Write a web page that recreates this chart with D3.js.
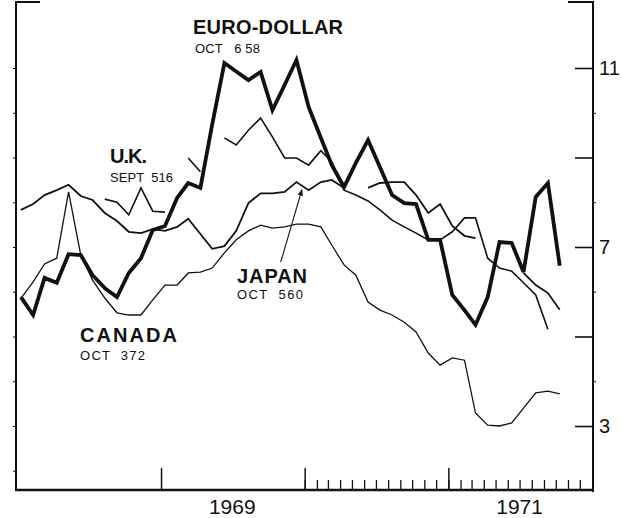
<!DOCTYPE html>
<meta charset="utf-8">
<style>
body { margin: 0; background: #fff; }
text { font-family: "Liberation Sans", Arial, sans-serif; fill: #111; }
.label { font-size: 20px; font-weight: bold; }
.sub { font-size: 13px; white-space: pre; }
.tick text { font-size: 20px; }
</style>
<svg width="622" height="518"></svg>
<script src="https://d3js.org/d3.v7.min.js"></script>
<script>
	var svg = d3.select("svg");
	var ink = "#111";

	// monthly points, Jan 1968 .. Oct 1971
	var months = d3.range(46).map(function(i) { return new Date(1968, i, 11); });

	var euroDollar = [5.88, 5.48, 6.31, 6.20, 6.84, 6.82, 6.37, 6.08, 5.88, 6.42, 6.75, 7.38,
		7.47, 8.10, 8.43, 8.32, 9.74, 11.11, 10.92, 10.73, 10.91, 10.06, 10.62, 11.18,
		10.13, 9.44, 8.83, 8.34, 8.88, 9.39, 8.79, 8.16, 7.98, 7.96, 7.16, 7.16,
		5.93, 5.59, 5.26, 5.88, 7.11, 7.09, 6.44, 8.12, 8.43, 6.58];
	var unitedKingdom = [null, null, null, null, null, null, null, 8.07, 8.00, 7.72, 8.32, 7.80,
		7.78, null, 8.99, 8.68, null, 9.44, 9.28, 9.61, 9.88, 9.46, 8.99, 8.99,
		8.83, 9.15, 8.90, 8.27, 8.16, 8.03, 7.83, 7.60, 7.45, 7.31, 7.16, 7.16,
		7.34, 7.65, 7.65, 6.75, 6.53, 6.46, 6.20, 5.93, 5.16, null];
	var japan = [7.83, 7.96, 8.16, 8.27, 8.39, 8.14, 8.05, 7.76, 7.58, 7.34, 7.31, 7.40,
		7.36, 7.45, 7.63, 7.29, 6.96, 7.02, 7.36, 7.98, 8.20, 8.20, 8.23, 8.45,
		8.27, 8.45, 8.50, 8.32, null, 8.32, 8.43, 8.45, 8.45, 8.16, 7.76, 7.96,
		7.47, 7.25, 7.20, null, null, null, 6.42, 6.15, 5.97, 5.60];
	var canada = [5.85, 6.22, 6.62, 6.75, 8.23, 6.82, 6.26, 5.86, 5.53, 5.48, 5.48, 5.82,
		6.15, 6.15, 6.42, 6.44, 6.53, 6.87, 7.16, 7.36, 7.49, 7.42, 7.45, 7.51,
		7.51, 7.45, 7.04, 6.60, 6.37, 5.77, 5.59, 5.48, 5.32, 5.10, 4.63, 4.36,
		4.52, 4.47, 3.29, 3.02, 3.00, 3.07, 3.40, 3.74, 3.78, 3.72];

	var rateTicks = [3, 5, 7, 9, 11];
	var rateLabels = [3, 7, 11];
	var yearLabels = ["1969", "1971"];

	var x = d3.scaleTime()
		.domain([new Date(1968, 0, 1), new Date(1972, 0, 1)])
		.range([17, 592]);
	var y = d3.scaleLinear().domain([3, 11]).range([426, 68]);

	// frame
	var frame = svg.append("g").attr("stroke", ink).attr("fill", "none");
	frame.append("line").attr("x1", 16).attr("x2", 16).attr("y1", 1).attr("y2", 491).attr("stroke-width", 2);
	frame.append("line").attr("x1", 593).attr("x2", 593).attr("y1", 1).attr("y2", 492).attr("stroke-width", 2);
	frame.append("line").attr("x1", 15).attr("x2", 594).attr("y1", 490).attr("y2", 490).attr("stroke-width", 2.6);
	frame.append("line").attr("x1", 15).attr("x2", 40).attr("y1", 2).attr("y2", 2).attr("stroke-width", 2);
	frame.append("line").attr("x1", 568).attr("x2", 594).attr("y1", 2).attr("y2", 2).attr("stroke-width", 2);

	// right axis
	var right = svg.append("g")
		.attr("transform", "translate(593,0)")
		.call(d3.axisRight(y).tickValues(rateTicks).tickSize(-18).tickPadding(6)
			.tickFormat(function(d) { return rateLabels.indexOf(d) >= 0 ? d : ""; }));
	right.select(".domain").remove();
	right.selectAll(".tick line").attr("stroke", ink).attr("stroke-width", 1.6);
	right.selectAll(".tick text").attr("font-family", null).attr("font-size", null);

	var rightMinor = svg.append("g")
		.attr("transform", "translate(593,0)")
		.call(d3.axisRight(y).tickValues([4, 6, 8, 10]).tickSize(3).tickFormat(""));
	rightMinor.select(".domain").remove();
	rightMinor.selectAll(".tick line").attr("stroke", ink);

	// left axis small ticks
	var left = svg.append("g")
		.attr("transform", "translate(16,0)")
		.call(d3.axisLeft(y).tickValues(d3.range(2, 12)).tickSize(3).tickFormat(""));
	left.select(".domain").remove();
	left.selectAll(".tick line").attr("stroke", ink);

	// bottom axis: year ticks and monthly ticks for 1970-71
	var years = svg.append("g")
		.attr("transform", "translate(0,490)")
		.call(d3.axisBottom(x).tickValues([new Date(1969, 0, 1), new Date(1970, 0, 1), new Date(1971, 0, 1)])
			.tickSize(-22).tickFormat(""));
	years.select(".domain").remove();
	years.selectAll(".tick line").attr("stroke", ink).attr("stroke-width", 1.5);

	var monthTicks = svg.append("g")
		.attr("transform", "translate(0,490)")
		.call(d3.axisBottom(x).tickValues(d3.timeMonth.range(new Date(1970, 0, 1), new Date(1972, 0, 1)))
			.tickSize(-10).tickFormat(""));
	monthTicks.select(".domain").remove();
	monthTicks.selectAll(".tick line").attr("stroke", ink).attr("stroke-width", 1.3);

	svg.selectAll(".year")
		.data(yearLabels)
		.enter().append("text")
		.attr("class", "year")
		.attr("x", function(d) { return x(new Date(+d, 6, 1)); })
		.attr("y", 514)
		.attr("text-anchor", "middle")
		.style("font-size", "21px")
		.text(function(d) { return d; });

	// series
	var line = d3.line()
		.defined(function(d) { return d != null; })
		.x(function(d, i) { return x(months[i]); })
		.y(function(d) { return y(d); });

	var series = [
		{ values: canada, width: 1.3 },
		{ values: japan, width: 1.8 },
		{ values: unitedKingdom, width: 1.6 },
		{ values: euroDollar, width: 3.8 }
	];

	svg.selectAll(".series")
		.data(series)
		.enter().append("path")
		.attr("class", "series")
		.attr("fill", "none")
		.attr("stroke", ink)
		.attr("stroke-linejoin", "miter")
		.attr("stroke-miterlimit", 3)
		.attr("stroke-width", function(d) { return d.width; })
		.attr("d", function(d) { return line(d.values); });

	// labels
	function label(txt, px, py, cls, len) {
		svg.append("text")
			.attr("class", cls)
			.attr("x", px)
			.attr("y", py)
			.attr("textLength", len)
			.attr("lengthAdjust", "spacing")
			.text(txt);
	}
	label("EURO-DOLLAR", 193, 34, "label", 150);
	label("OCT   6 58", 195, 53, "sub", 65);
	label("U.K.", 110, 163, "label", 37);
	label("SEPT  516", 110, 182, "sub", 63);
	label("JAPAN", 237, 283, "label", 70);
	label("OCT  560", 237, 299, "sub", 66);
	label("CANADA", 80, 342, "label", 97);
	label("OCT  372", 80, 360, "sub", 65);

	// arrow from Japan label to its line
	svg.append("defs").append("marker")
		.attr("id", "head")
		.attr("viewBox", "0 0 10 10")
		.attr("refX", 9).attr("refY", 5)
		.attr("markerWidth", 6).attr("markerHeight", 6)
		.attr("orient", "auto")
		.append("path").attr("d", "M0,1L10,5L0,9Z").attr("fill", ink);

	svg.append("line")
		.attr("x1", x(new Date(1969, 10, 1)))
		.attr("y1", y(6.66))
		.attr("x2", x(new Date(1969, 11, 25)))
		.attr("y2", y(8.28))
		.attr("stroke", ink)
		.attr("stroke-width", 1.1)
		.attr("marker-end", "url(#head)");
</script>
